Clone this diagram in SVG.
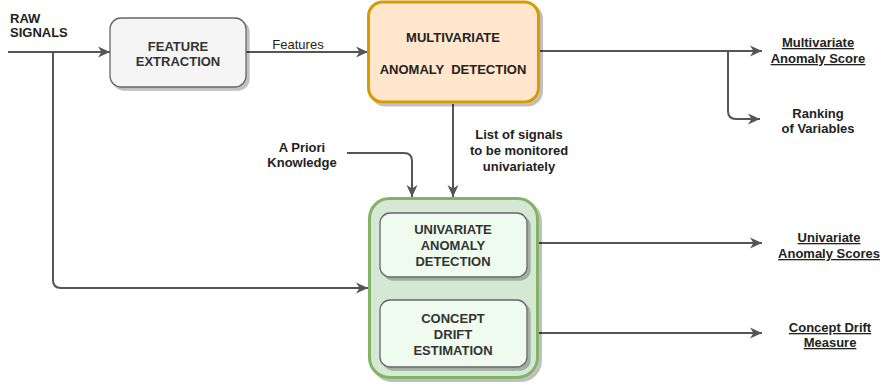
<svg xmlns="http://www.w3.org/2000/svg" width="884" height="390" viewBox="0 0 884 390">
<defs>
<marker id="arr" markerUnits="userSpaceOnUse" markerWidth="14" markerHeight="14" viewBox="0 0 14 14" refX="13" refY="7" orient="auto">
<path d="M1,1.5 L13,7 L1,12.5 L4.5,7 Z" fill="#555555"/>
</marker>
<filter id="sh" x="-10%" y="-10%" width="130%" height="130%">
<feOffset dx="2.5" dy="3" in="SourceAlpha" result="o"/>
<feComponentTransfer in="o" result="a"><feFuncA type="linear" slope="0.25"/></feComponentTransfer>
<feMerge><feMergeNode in="a"/><feMergeNode in="SourceGraphic"/></feMerge>
</filter>
</defs>
<style>
text{font-family:"Liberation Sans",Arial,sans-serif;font-size:13px;fill:#222;}
.b{font-weight:bold;}
.c{text-anchor:middle;}
.g{fill:#333;}
.u{text-decoration:underline;}
.ln{fill:none;stroke:#555555;stroke-width:2;}
.box{fill:#f5f5f5;stroke:#666666;stroke-width:1.3;}
.inner{fill:#eefbee;stroke:#666666;stroke-width:1.3;}
</style>

<g id="connectors">
<path class="ln" d="M8,52 L110,52" marker-end="url(#arr)"/>
<path class="ln" d="M53,52 L53,280 Q53,288 61,288 L368,288" marker-end="url(#arr)"/>
<path class="ln" d="M246,52 L368,52" marker-end="url(#arr)"/>
<path class="ln" d="M540,51 L762,51" marker-end="url(#arr)"/>
<path class="ln" d="M728,51 L728,111 Q728,119 736,119 L760,119" marker-end="url(#arr)"/>
<path class="ln" d="M453,104 L453,197" marker-end="url(#arr)"/>
<path class="ln" d="M347,153 L404,153 Q412,153 412,161 L412,197" marker-end="url(#arr)"/>
<path class="ln" d="M527,243 L762,243" marker-end="url(#arr)"/>
<path class="ln" d="M527,333 L762,333" marker-end="url(#arr)"/>
</g>

<g id="raw-signals">
<text class="b" x="10" y="23">RAW</text>
<text class="b" x="10" y="37">SIGNALS</text>
</g>

<g id="feature-extraction">
<rect class="box" x="110" y="18" width="136" height="69" rx="11" filter="url(#sh)"/>
<text class="b c g" x="178" y="51">FEATURE</text>
<text class="b c g" x="178" y="66">EXTRACTION</text>
</g>

<g id="features-label">
<text class="c" x="298" y="49">Features</text>
</g>

<g id="multivariate">
<rect x="368.5" y="2" width="170" height="100" rx="14" fill="#ffe6cc" stroke="#d79b00" stroke-width="3" filter="url(#sh)"/>
<text class="b c" x="453" y="42">MULTIVARIATE</text>
<text class="b c" x="453" y="74" xml:space="preserve">ANOMALY  DETECTION</text>
</g>

<g id="multivariate-score">
<text class="b c u" x="818" y="47">Multivariate</text>
<text class="b c u" x="818" y="63">Anomaly Score</text>
</g>

<g id="ranking">
<text class="b c" x="818" y="118">Ranking</text>
<text class="b c" x="818" y="133">of Variables</text>
</g>

<g id="a-priori">
<text class="b c" x="302" y="152">A Priori</text>
<text class="b c" x="302" y="167">Knowledge</text>
</g>

<g id="list-signals">
<text class="b c" x="519" y="139">List of signals</text>
<text class="b c" x="519" y="155">to be monitored</text>
<text class="b c" x="519" y="171">univariately</text>
</g>

<g id="univariate-group">
<rect x="369.5" y="198.5" width="168" height="179" rx="20" fill="#d5e8d4" stroke="#82b366" stroke-width="3" filter="url(#sh)"/>
</g>

<g id="univariate-detection">
<rect class="inner" x="380" y="213" width="147" height="64" rx="10" filter="url(#sh)"/>
<text class="b c g" x="453" y="234">UNIVARIATE</text>
<text class="b c g" x="453" y="250">ANOMALY</text>
<text class="b c g" x="453" y="266">DETECTION</text>
</g>

<g id="concept-drift">
<rect class="inner" x="380" y="300" width="147" height="67" rx="10" filter="url(#sh)"/>
<text class="b c g" x="453" y="323">CONCEPT</text>
<text class="b c g" x="453" y="339">DRIFT</text>
<text class="b c g" x="453" y="355">ESTIMATION</text>
</g>

<g id="univariate-scores">
<text class="b c u" x="829" y="242">Univariate</text>
<text class="b c u" x="829" y="258">Anomaly Scores</text>
</g>

<g id="concept-drift-measure">
<text class="b c u" x="830" y="332">Concept Drift</text>
<text class="b c u" x="830" y="347">Measure</text>
</g>
</svg>
